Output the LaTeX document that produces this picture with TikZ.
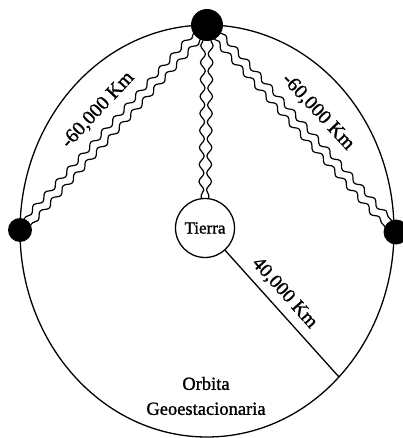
\documentclass[tikz,border=0pt]{standalone}
\usepackage{fontspec}
\setmainfont{Liberation Serif}[FakeBold=1.2]
\usetikzlibrary{decorations.pathmorphing,calc}
\begin{document}
\begin{tikzpicture}[x=1pt,y=-1pt,
  sat/.style={circle,fill=black,inner sep=0pt},
  wave/.style={line width=1.2pt, decorate, decoration={snake, amplitude=2.4pt, segment length=17pt}},
  wavem/.style={line width=1.2pt, decorate, decoration={snake, amplitude=2.4pt, segment length=17pt, mirror}},
  lbl/.style={font=\fontsize{20}{22}\selectfont, inner sep=0pt}]
\useasboundingbox (0,0) rectangle (402,438);
% orbit
\draw[line width=1.3pt] (207,231) ellipse [x radius=187pt, y radius=206pt];
% satellites and earth
\node[sat, minimum size=32pt] (top) at (207,25) {};
\node[sat, minimum size=24pt] (left) at (20,230) {};
\node[sat, minimum size=25pt] (right) at (396,232) {};
\node[circle, draw, fill=white, line width=1.3pt, minimum size=59pt, inner sep=0pt] (earth) at (205,228) {\fontsize{17}{18}\selectfont Tierra};
% wavy links top-left
\coordinate (tl) at ($(top)!15pt!(left)$);
\coordinate (lt) at ($(left)!11pt!(top)$);
\draw[wave] ($(tl)!4.5pt!90:(lt)$) -- ($(lt)!4.5pt!-90:(tl)$);
\draw[wave] ($(tl)!4.5pt!-90:(lt)$) -- ($(lt)!4.5pt!90:(tl)$);
% wavy links top-right
\coordinate (tr) at ($(top)!15pt!(right)$);
\coordinate (rt) at ($(right)!11pt!(top)$);
\draw[wave] ($(tr)!4.5pt!90:(rt)$) -- ($(rt)!4.5pt!-90:(tr)$);
\draw[wave] ($(tr)!4.5pt!-90:(rt)$) -- ($(rt)!4.5pt!90:(tr)$);
% wavy links top-earth
\coordinate (te) at ($(top.south)+(0,-1)$);
\coordinate (et) at (earth.north);
\draw[wave] ($(te)!3.8pt!90:(et)$) -- ($(et)!3.8pt!-90:(te)$);
\draw[wavem] ($(te)!3.8pt!-90:(et)$) -- ($(et)!3.8pt!90:(te)$);
% radius
\coordinate (rim) at (339,377);
\draw[line width=1.3pt] (earth) -- (rim)
  node[lbl, font=\fontsize{19.5}{21}\selectfont, pos=0.42, sloped, above=7pt] {40,000 Km};
% labels
\node[lbl, rotate=47] (l1) at (98,110) {-60,000 Km};
\node[lbl, rotate=-47] (l2) at (318,112) {-60,000 Km};
\node[align=center, inner sep=0pt, font=\fontsize{18.5}{25}\selectfont] (orb) at (206,396) {Orbita\\Geoestacionaria};
\end{tikzpicture}
\end{document}
